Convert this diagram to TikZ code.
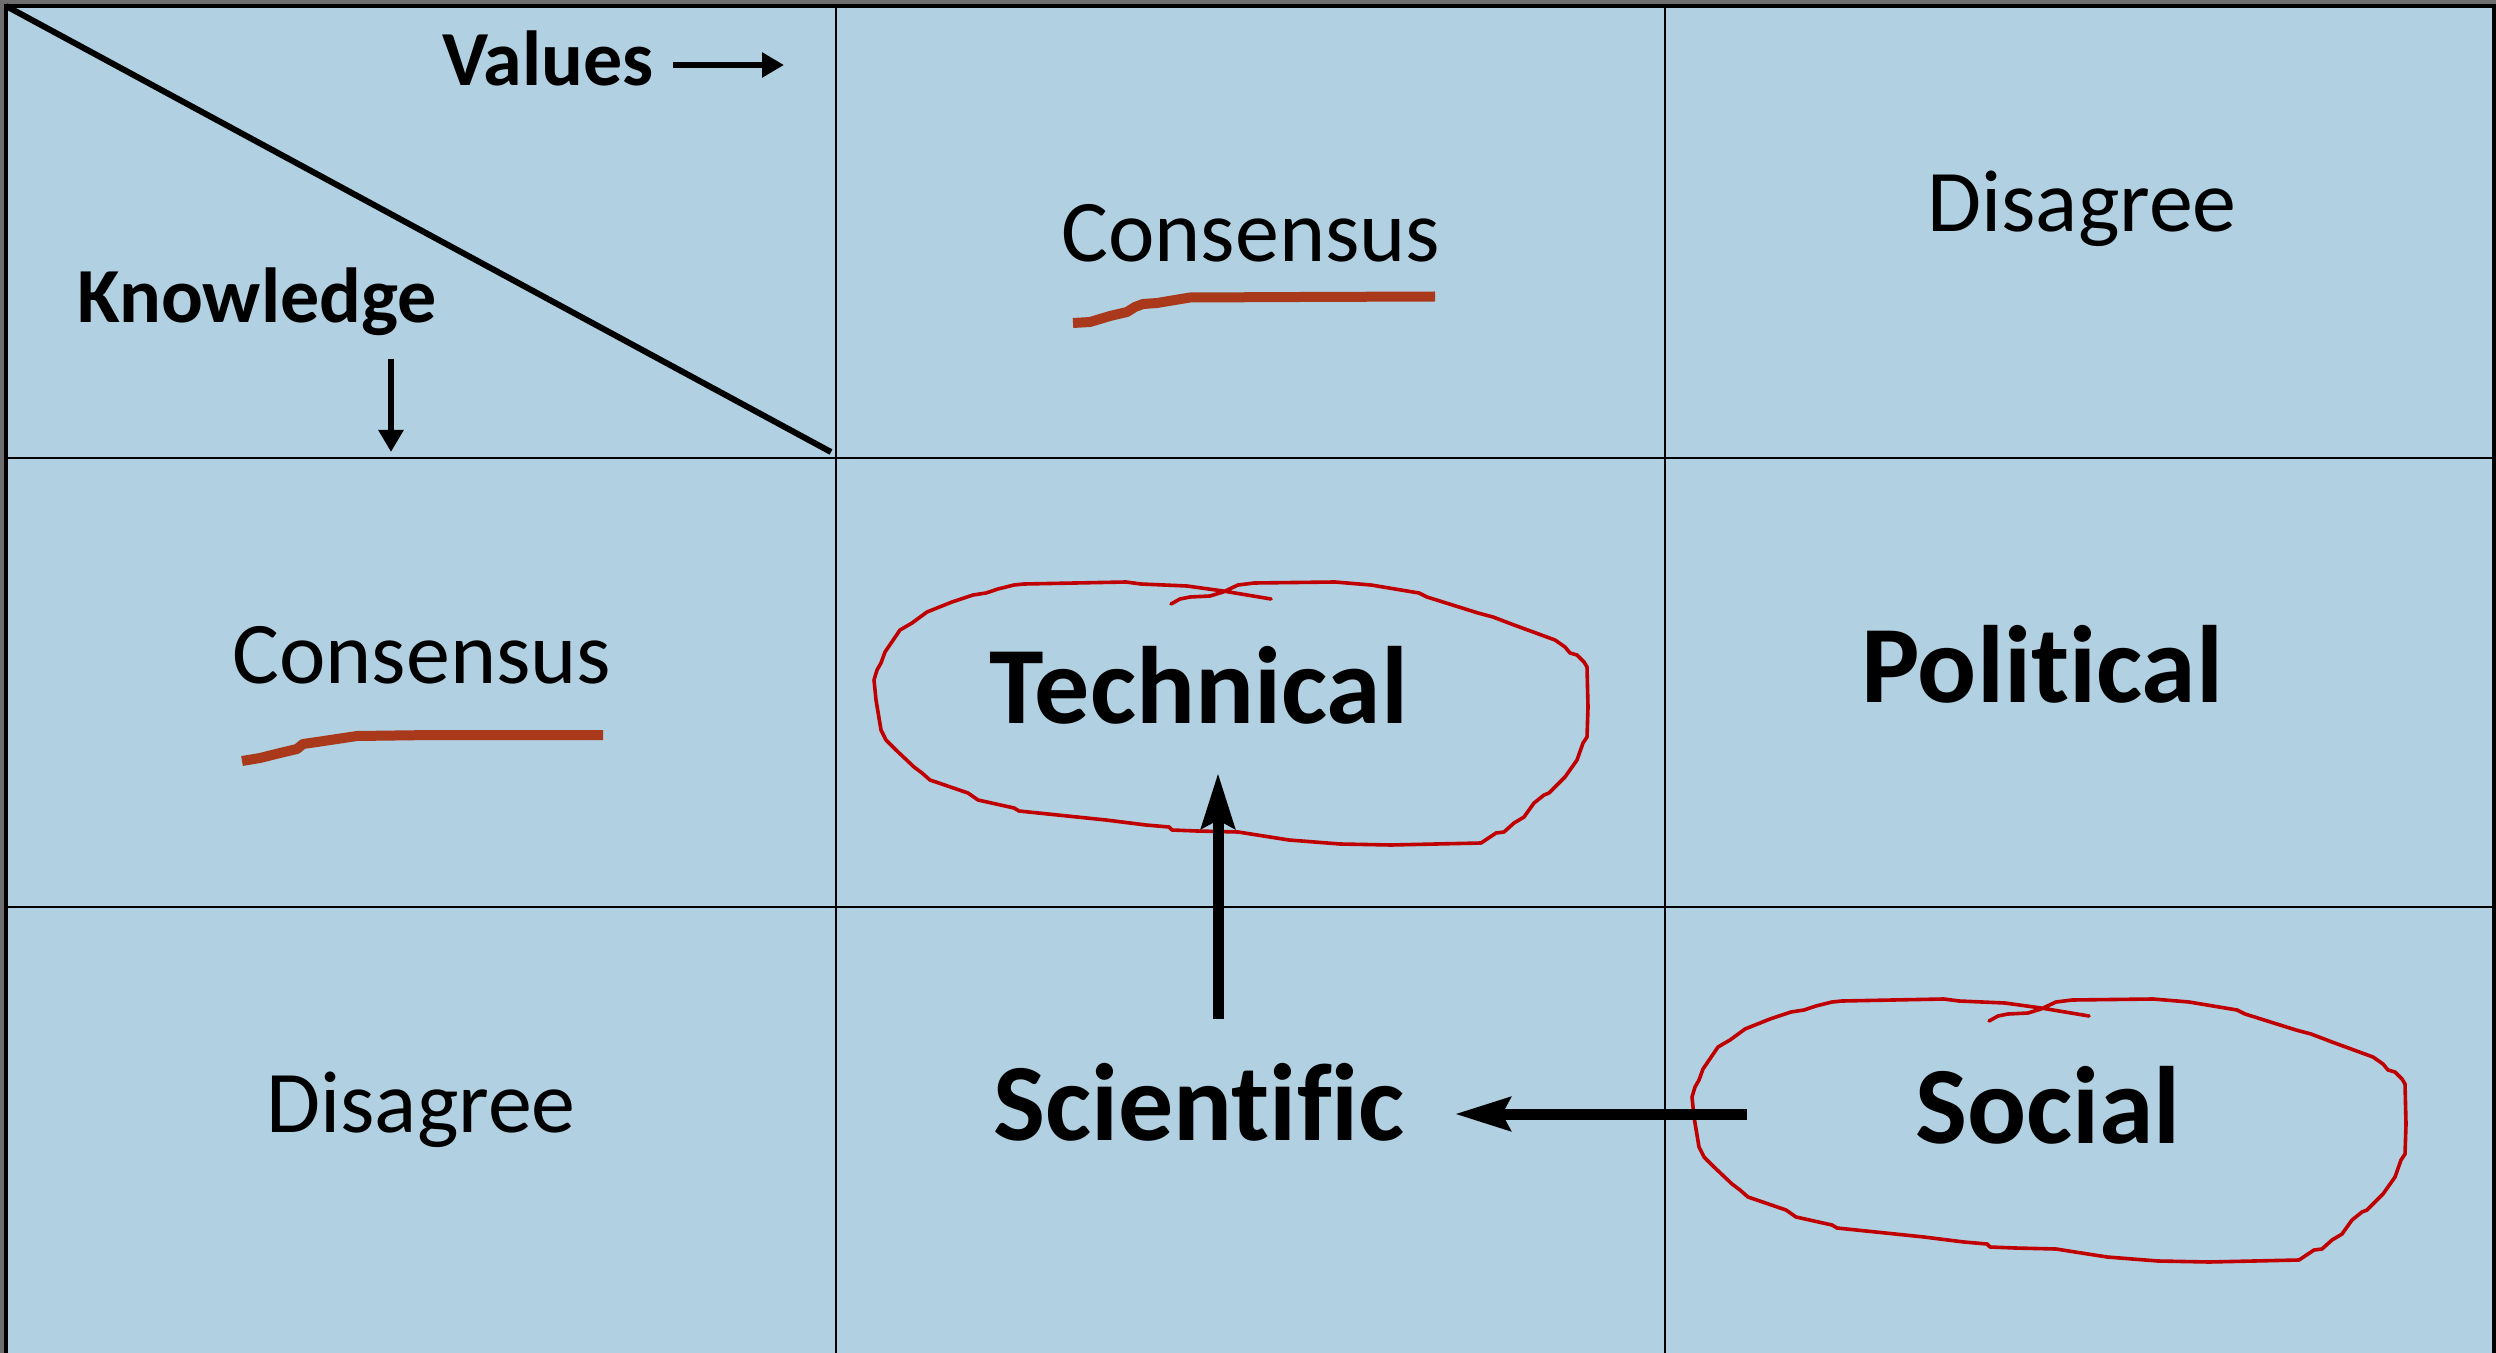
\documentclass[tikz,border=0pt]{standalone}
\usepackage{fontspec}
\setmainfont{Carlito}[Ligatures={NoCommon,NoContextual}]
\usetikzlibrary{arrows.meta}
\definecolor{cellblue}{RGB}{177,208,225}
\definecolor{framegray}{RGB}{110,110,110}
\definecolor{loopred}{RGB}{192,0,0}
\definecolor{rust}{RGB}{169,57,26}
\begin{document}
\begin{tikzpicture}[x=0.5pt,y=-0.5pt,
  gridline/.style={line width=1pt,black},
  outerline/.style={line width=2pt,black},
  lbl/.style={anchor=base,inner sep=0pt,font=\fontsize{44}{50}\selectfont},
  hdr/.style={anchor=base,inner sep=0pt,font=\fontsize{39}{44}\selectfont\bfseries},
  bigword/.style={anchor=base,inner sep=0pt,font=\fontsize{55}{60}\selectfont\bfseries},
  smallarrow/.style={line width=3pt,-{Triangle[length=11pt,width=12pt]}},
  bigarrow/.style={line width=5.5pt,-{Stealth[length=27.5pt,width=16.5pt,inset=4pt]}},
  redloopstyle/.style={loopred,line width=1.8pt,line join=round,line cap=round},
  uline/.style={rust,line width=5pt,line join=round}]
\useasboundingbox (0,0) rectangle (2496,1353);
% background
\fill[framegray] (0,0) rectangle (2496,1353);
\fill[cellblue] (6,6) rectangle (2494,1353);
% grid
\draw[gridline] (836,6) -- (836,1353);
\draw[gridline] (1665,6) -- (1665,1353);
\draw[gridline] (6,458) -- (2494,458);
\draw[gridline] (6,907) -- (2494,907);
\draw[outerline] (6,1353) -- (6,6) -- (2494,6) -- (2494,1353);
% diagonal
\draw[line width=3pt] (6,6) -- (831,452);
% header labels
\node[hdr] (vals) at (548,86) {Values};
\node[hdr] (know) at (257,323) {Knowledge};
\coordinate (vstart) at (673,65);
\coordinate (vend) at (784,65);
\coordinate (kstart) at (391,359);
\coordinate (kend) at (391,452);
\draw[smallarrow] (vstart) -- (vend);
\draw[smallarrow] (kstart) -- (kend);
% axis labels
\node[lbl] (vcons) at (1251,262) {Consensus};
\node[lbl] (vdis) at (2082,232) {Disagree};
\node[lbl] (kcons) at (422,683) {Consensus};
\node[lbl] (kdis) at (421,1132) {Disagree};
% cell words
\node[bigword] (tech) at (1199,723) {Technical};
\node[bigword] (pol) at (2042,702) {Political};
\node[bigword] (sci) at (1199,1140) {Scientific};
\node[bigword] (soc) at (2048,1143) {Social};
% underlines
\draw[uline] (1073,323) -- (1090,322) -- (1110,316) -- (1127,312) -- (1135,307) -- (1143,304) -- (1157,303) -- (1190,297.5) -- (1300,297) -- (1435,296.5);
\draw[uline] (242,761) -- (260,758) -- (280,753) -- (297,749) -- (303,744) -- (317,742) -- (357,736) -- (433,735) -- (603,735);
% hand-drawn loops
\foreach \sx/\sy in {0/0,818/417}{
\draw[redloopstyle,shift={(\sx,\sy)}] (1171,604) -- (1180,599) -- (1190,597) -- (1210,596) -- (1223,592) -- (1238,585) -- (1254,583) -- (1335,582) -- (1371,585) -- (1419,593) -- (1427,597) -- (1478,613) -- (1493,617) -- (1514,625) -- (1555,640) -- (1565,647) -- (1570,653) -- (1577,655) -- (1584,662) -- (1587,667) -- (1588,707) -- (1587,737) -- (1583,743) -- (1577,760) -- (1565,777) -- (1549,793) -- (1544,795) -- (1534,803) -- (1524,817) -- (1514,823) -- (1504,832) -- (1496,833) -- (1481,843) -- (1391,845) -- (1340,844) -- (1289,840) -- (1238,832) -- (1197,831) -- (1172,830) -- (1169,827) -- (1146,825) -- (1106,820) -- (1019,811) -- (1014,808) -- (978,800) -- (968,793) -- (930,780) -- (922,773) -- (914,767) -- (896,750) -- (886,740) -- (881,730) -- (876,700) -- (874,680) -- (877,670) -- (881,663) -- (885,652) -- (900,630) -- (912,623) -- (927,612) -- (952,602) -- (973,595) -- (986,593) -- (998,589) -- (1014,585) -- (1024,584) -- (1126,582) -- (1141,584) -- (1187,586) -- (1223,591) -- (1271,599);
}
% big arrows
\coordinate (upstart) at (1218,1019);
\coordinate (uptip) at (1218,773);
\coordinate (lstart) at (1747,1114);
\coordinate (ltip) at (1455,1114);
\draw[bigarrow] (upstart) -- (uptip);
\draw[bigarrow] (lstart) -- (ltip);
\end{tikzpicture}
\end{document}
